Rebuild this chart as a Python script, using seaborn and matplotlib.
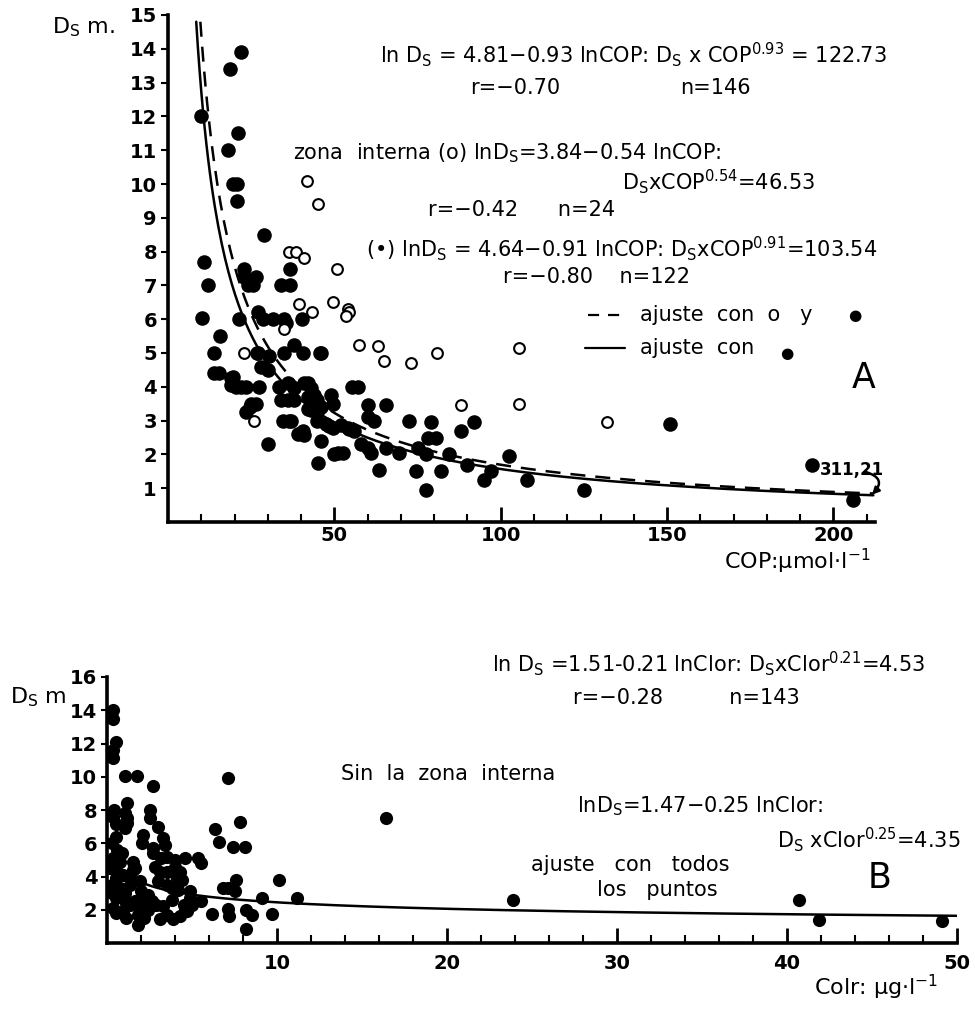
import numpy as np
import pandas as pd
from matplotlib import pyplot as plt
import seaborn as sns

# Panel A: depth (Ds, m) vs particulate organic carbon (COP, umol/l)
cop_filled = [10, 22, 18.5, 21, 18, 19.5, 20.7, 20.7, 28.8, 10.8, 12, 10.2, 15.6, 13.8,
              13.8, 15.3, 19, 19, 23.4, 22.8, 22.8, 26.4, 24, 25.5, 21.3, 27, 28.5, 31.5,
              35, 35.4, 40.2, 34, 36.6, 36.6, 26.7, 30.3, 34.8, 37.8, 40.5, 45.6, 27.9, 30,
              27.3, 33.3, 36, 37.8, 42, 43, 34, 36, 37.8, 23.4, 26.4, 24.5, 34.5, 36.9,
              39, 40.5, 42, 44.7, 46, 42, 44.7, 46, 49, 49.5, 48.3, 50, 52.5, 54.4,
              55.3, 57, 60, 65.5, 62, 60, 61, 63.4, 65.5, 45, 30, 69.5, 72.5, 79,
              75, 78, 80.5, 77.5, 74.5, 82, 77.5, 84.4, 88, 92, 90, 95, 97, 102.4,
              108, 125, 151, 193.7, 206, 27, 46, 19.5, 40.8, 43.8, 45, 25, 36.5, 40.8,
              49.5, 52, 54, 60, 51, 43, 22, 20.5, 47.5, 56, 58]
ds_filled = [12, 13.9, 13.4, 11.5, 11, 10, 10, 9.5, 8.5, 7.7, 7.0, 6.05, 5.5, 5.0,
             4.4, 4.4, 4.25, 4.05, 4.0, 7.5, 7.25, 7.25, 7.0, 7.0, 6.0, 6.2, 6.0, 6.0,
             6.0, 5.9, 6.0, 7.0, 7.0, 7.5, 5.0, 4.9, 5.0, 5.25, 5.0, 5.0, 4.6, 4.5,
             4.0, 4.0, 4.1, 3.95, 4.1, 3.95, 3.6, 3.6, 3.6, 3.25, 3.5, 3.4, 3.0, 3.0,
             2.6, 2.7, 3.7, 3.6, 3.4, 3.35, 3.0, 2.4, 3.75, 3.5, 2.85, 2.0, 2.05, 2.75,
             4.0, 4.0, 3.45, 3.45, 3.0, 2.2, 2.05, 1.55, 2.2, 1.75, 2.3, 2.05, 3.0, 2.95,
             2.2, 2.5, 2.5, 2.0, 1.5, 1.5, 0.95, 2.0, 2.7, 2.95, 1.7, 1.25, 1.5, 1.95,
             1.25, 0.95, 2.9, 1.7, 0.65, 5.0, 5.0, 4.3, 4.1, 3.75, 3.3, 3.5, 3.0, 2.57,
             2.78, 2.87, 2.78, 3.1, 2.04, 3.3, 4.0, 4.0, 2.9, 2.7, 2.3]

cop_open = [41.7, 45, 36.3, 38.4, 40.8, 50.7, 39.3, 43.2, 49.5, 54, 54.4, 53.4,
            35, 22.8, 25.8, 57.4, 63, 64.8, 73, 81, 88, 105.4, 105.4, 132]
ds_open = [10.1, 9.4, 8.0, 8.0, 7.8, 7.5, 6.45, 6.2, 6.5, 6.3, 6.2, 6.1,
           5.7, 5.0, 3.0, 5.25, 5.2, 4.75, 4.7, 5.0, 3.45, 5.15, 3.5, 2.95]

# fitted power laws printed on the chart: Ds = a * COP^-b
fit_all = (122.73, 0.93)      # o and ●
fit_filled = (103.54, 0.91)   # ● only

# Panel B: depth vs chlorophyll
clor = [0.35, 0.35, 0.5, 0.35, 0.35, 1.05, 1.75, 2.7, 7.1, 1.2, 1.05, 2.5, 2.5,
        0.35, 0.5, 1.2, 1.05, 0.5, 2.1, 2.05, 3.0, 6.35, 7.8, 6.6, 7.4, 8.1,
        3.3, 3.4, 2.7, 2.7, 3.2, 3.5, 4.6, 5.35, 5.5, 0.35, 0.75, 1.55, 1.65,
        0.2, 0.6, 0.95, 1.35, 1.95, 0.3, 0.75, 1.35, 0.5, 1.05, 1.65, 0.35, 0.95,
        1.35, 1.8, 1.8, 1.8, 2.2, 2.4, 2.65, 3.1, 3.5, 3.0, 3.5, 4.0, 4.3, 4.1,
        4.4, 3.8, 4.2, 4.9, 4.9, 5.5, 2.9, 3.1, 3.5, 3.9, 4.3, 4.5, 4.7, 6.2,
        7.1, 7.2, 8.2, 8.5, 8.2, 9.7, 6.8, 7.1, 7.5, 7.6, 9.1, 10.1, 11.2, 16.4,
        23.9, 40.7, 41.9, 49.1, 0.3, 0.6, 0.3, 0.5, 2.2, 2.4, 3.3, 1.1, 0.9, 1.5,
        2.8, 3.8, 4.6, 2.0, 0.4, 1.2, 4.0, 5.0, 1.1, 0.5]
ds_b = [14.0, 13.5, 12.1, 11.6, 11.15, 10.06, 10.06, 9.45, 9.9, 8.4, 7.8, 8.0, 7.5,
        7.6, 7.15, 7.2, 6.9, 6.4, 6.5, 6.0, 7.0, 6.85, 7.3, 6.06, 5.75, 5.8,
        6.3, 5.9, 5.7, 5.4, 5.1, 5.2, 5.1, 5.1, 4.8, 5.1, 4.9, 4.9, 4.5,
        4.5, 4.3, 4.1, 3.9, 3.7, 3.5, 3.3, 3.5, 2.7, 3.0, 2.5, 2.1, 1.9,
        2.3, 2.3, 1.7, 1.1, 2.5, 2.9, 2.5, 4.3, 4.3, 3.7, 3.5, 4.6, 4.3, 3.9,
        3.8, 3.3, 3.2, 3.1, 2.7, 2.5, 2.3, 1.45, 1.7, 1.45, 1.6, 2.3, 1.9, 1.75,
        2.05, 1.6, 2.0, 1.7, 0.85, 1.75, 3.3, 3.3, 3.1, 3.8, 2.7, 3.8, 2.7, 7.5,
        2.6, 2.6, 1.4, 1.3, 6.0, 5.6, 3.0, 1.8, 1.5, 2.0, 2.2, 2.4, 5.4, 4.4,
        4.6, 2.6, 2.0, 3.1, 8.0, 7.5, 5.0, 2.3, 1.5, 3.9]
fit_b = (4.35, 0.25)

sns.set_style("ticks")
plt.rcParams['font.family'] = ['DejaVu Sans']
plt.rcParams['mathtext.default'] = 'regular'
for key in ['text.color', 'axes.labelcolor', 'xtick.color', 'ytick.color']:
    plt.rcParams[key] = 'black'

fig = plt.figure(figsize=(9.75, 10.1), dpi=100)
W, H = 975, 1010


def ftext(x, y, s, **kw):
    # place text using pixel positions of the figure
    kw.setdefault('fontsize', 15)
    kw.setdefault('va', 'center')
    fig.text(x / W, 1 - y / H, s, **kw)


def style_axes(ax):
    sns.despine(ax=ax)
    for side in ['left', 'bottom']:
        ax.spines[side].set_linewidth(2.6)
        ax.spines[side].set_color('black')
    for lab in ax.get_xticklabels() + ax.get_yticklabels():
        lab.set_fontweight('bold')
        lab.set_fontsize(14)


# ---------- Panel A ----------
axA = fig.add_axes([168 / W, 1 - 522 / H, (875 - 168) / W, (522 - 15) / H])
dfa = pd.DataFrame({'cop': cop_filled, 'ds': ds_filled})
dfo = pd.DataFrame({'cop': cop_open, 'ds': ds_open})
sns.scatterplot(data=dfa, x='cop', y='ds', ax=axA, color='black', s=110,
                edgecolor='black', linewidth=0, zorder=3)
sns.scatterplot(data=dfo, x='cop', y='ds', ax=axA, facecolor='white', s=60,
                edgecolor='black', linewidth=1.5, zorder=3)

for (a, b), dashed in [(fit_all, True), (fit_filled, False)]:
    x0 = (a / 14.8) ** (1 / b)
    xs = np.linspace(x0, 212, 400)
    sns.lineplot(x=xs, y=a * xs ** (-b), ax=axA, color='black', linewidth=1.8,
                 zorder=2)
    if dashed:
        axA.lines[-1].set_dashes([6, 4])

axA.set_xlim(0, 212.5)
axA.set_ylim(0, 15)
axA.set_xticks([50, 100, 150, 200])
axA.set_xticks(np.arange(10, 211, 10), minor=True)
axA.set_yticks(range(1, 16))
axA.tick_params(axis='x', direction='in', length=11, width=2, pad=3)
axA.tick_params(axis='x', which='minor', direction='in', length=6, width=1.5)
axA.tick_params(axis='y', direction='out', length=5, width=1.5, pad=3)
axA.set_xlabel('')
axA.set_ylabel('')
style_axes(axA)

axA.annotate('', xy=(211, 0.75), xytext=(209, 1.5),
             arrowprops=dict(arrowstyle='-|>', connectionstyle='arc3,rad=-0.9',
                             color='black', lw=1.8))
axA.text(196, 1.55, '311,21', fontsize=12, fontweight='bold', va='center')

ftext(52, 27, r'D$_S$ m.', fontsize=16)
ftext(380, 55, r'ln D$_S$ = 4.81−0.93 lnCOP: D$_S$ x COP$^{0.93}$ = 122.73')
ftext(470, 88, 'r=−0.70')
ftext(680, 88, 'n=146')
ftext(293, 153, r'zona  interna (o) lnD$_S$=3.84−0.54 lnCOP:')
ftext(622, 182, r'D$_S$xCOP$^{0.54}$=46.53')
ftext(428, 210, 'r=−0.42      n=24')
ftext(366, 249, r'(•) lnD$_S$ = 4.64−0.91 lnCOP: D$_S$xCOP$^{0.91}$=103.54')
ftext(503, 277, 'r=−0.80    n=122')
fig.add_artist(plt.Line2D([588 / W, 622 / W], [1 - 315 / H] * 2, color='black',
                          lw=1.6, dashes=[5, 4]))
ftext(640, 315, 'ajuste  con  o   y')
ftext(848, 315, '●', fontsize=11)
fig.add_artist(plt.Line2D([585 / W, 625 / W], [1 - 348 / H] * 2, color='black', lw=1.6))
ftext(640, 348, 'ajuste  con')
ftext(780, 353, '●', fontsize=11)
ftext(852, 378, 'A', fontsize=25)
ftext(870, 561, r'COP:μmol·l$^{−1}$', fontsize=16, ha='right')

# ---------- Panel B ----------
axB = fig.add_axes([107 / W, 1 - 943 / H, (957 - 107) / W, (943 - 677) / H])
dfb = pd.DataFrame({'clor': clor, 'ds': ds_b})
sns.scatterplot(data=dfb, x='clor', y='ds', ax=axB, color='black', s=90,
                linewidth=0, zorder=3)
xb = np.linspace(1, 50, 300)
sns.lineplot(x=xb, y=fit_b[0] * xb ** (-fit_b[1]), ax=axB, color='black',
             linewidth=1.8, zorder=2)
axB.set_xlim(0, 50)
axB.set_ylim(0, 16)
axB.set_xticks([10, 20, 30, 40, 50])
axB.set_xticks(np.arange(2, 50, 2), minor=True)
axB.set_yticks(range(2, 17, 2))
axB.tick_params(axis='x', direction='in', length=11, width=2, pad=8)
axB.tick_params(axis='x', which='minor', direction='in', length=6, width=1.5)
axB.tick_params(axis='y', direction='out', length=4, width=1.5, pad=3)
axB.set_xlabel('')
axB.set_ylabel('')
style_axes(axB)

ftext(10, 697, r'D$_S$ m', fontsize=16)
ftext(492, 664, r'ln D$_S$ =1.51-0.21 lnClor: D$_S$xClor$^{0.21}$=4.53')
ftext(573, 698, 'r=−0.28          n=143')
ftext(341, 774, 'Sin  la  zona  interna')
ftext(577, 806, r'lnD$_S$=1.47−0.25 lnClor:')
ftext(777, 840, r'D$_S$ xClor$^{0.25}$=4.35')
ftext(531, 865, 'ajuste   con   todos')
ftext(597, 890, 'los   puntos')
ftext(868, 878, 'B', fontsize=25)
ftext(938, 987, r'Colr: μg·l$^{−1}$', fontsize=16, ha='right')

fig.savefig('out.png', dpi=100)
